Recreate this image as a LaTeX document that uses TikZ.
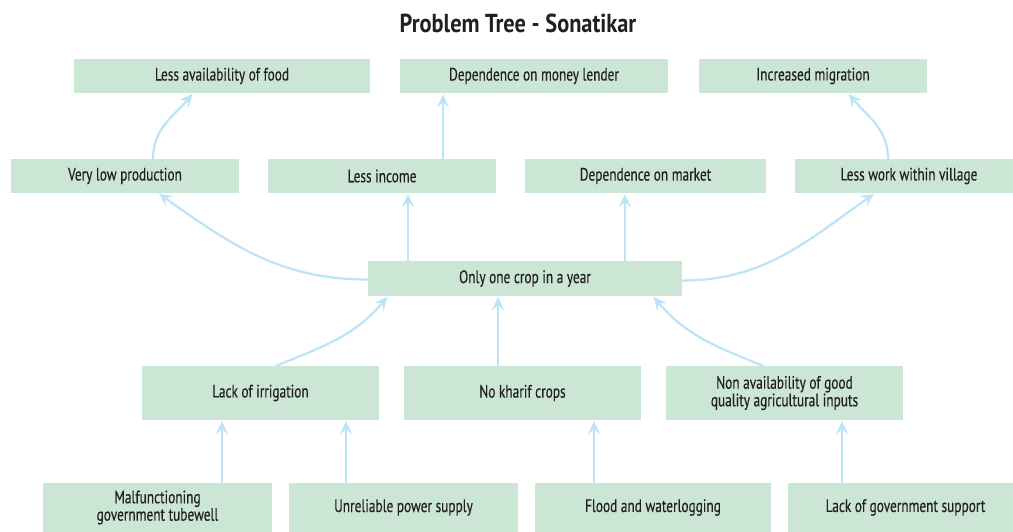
\documentclass[tikz,border=0pt]{standalone}
\usepackage{fontspec}
\setmainfont[FakeStretch=0.74,FakeBold=0.3]{PT Sans}
\newfontfamily\titlefont[FakeStretch=0.86]{PT Sans}
\usetikzlibrary{arrows.meta}
\definecolor{boxfill}{HTML}{CCE6D5}
\definecolor{arrowc}{HTML}{BDE3F7}
\definecolor{txt}{HTML}{231F20}
\tikzset{
  box/.style={fill=boxfill, draw=none, inner sep=2pt, align=center, text=txt,
    font=\fontsize{18}{15.5}\selectfont},
  arr/.style={draw=arrowc, line width=2.2pt,
    -{Stealth[length=13pt,width=12pt,inset=5pt]}, shorten >=1pt},
}
\begin{document}
\begin{tikzpicture}[x=1pt,y=-1pt]
\useasboundingbox (0,0) rectangle (1013,532);
\clip (0,0) rectangle (1013,532);
\node[text=txt, font=\titlefont\fontsize{26}{28}\bfseries\selectfont] (title) at (518,23) {Problem Tree - Sonatikar};
% row 1
\node[box, minimum width=296pt, minimum height=34pt] (A) at (222,76) {Less availability of food};
\node[box, minimum width=268pt, minimum height=34pt] (B) at (534,76) {Dependence on money lender};
\node[box, minimum width=228pt, minimum height=34pt] (C) at (813,76) {Increased migration};
% row 2
\node[box, minimum width=228pt, minimum height=34pt] (D) at (125,176) {Very low production};
\node[box, minimum width=228pt, minimum height=34pt] (E) at (382,176) {Less income};
\node[box, minimum width=241pt, minimum height=34pt] (F) at (645.5,176) {Dependence on market};
\node[box, minimum width=228pt, minimum height=34pt] (G) at (909,176) {Less work within village};
% row 3
\node[box, minimum width=314pt, minimum height=35pt] (H) at (525,278.5) {Only one crop in a year};
% row 4
\node[box, minimum width=237pt, minimum height=54pt] (I) at (260.5,393) {Lack of irrigation};
\node[box, minimum width=237pt, minimum height=54pt] (J) at (522.5,393) {No kharif crops};
\node[box, minimum width=237pt, minimum height=54pt] (K) at (784.5,393) {Non availability of good\\quality agricultural inputs};
% row 5
\node[box, minimum width=229pt, minimum height=49pt] (L) at (157.5,507.5) {Malfunctioning\\government tubewell};
\node[box, minimum width=229pt, minimum height=49pt] (M) at (403.5,507.5) {Unreliable power supply};
\node[box, minimum width=236pt, minimum height=49pt] (N) at (653,507.5) {Flood and waterlogging};
\node[box, minimum width=235pt, minimum height=49pt] (O) at (905.5,507.5) {Lack of government support};
% arrows top part
\draw[arr] ([xshift=28pt]D.north) to[out=90,in=230] ([xshift=-29pt]A.south);
\draw[arr] ([xshift=61pt]E.north) -- ([xshift=61pt]E.north |- B.south);
\draw[arr] ([xshift=-21pt]G.north) to[out=90,in=-50] ([xshift=35pt]C.south);
% from H
\draw[arr] ([yshift=-1pt]H.west) to[out=180,in=-35] ([xshift=33pt]D.south);
\draw[arr] ([xshift=-117pt]H.north) -- ([xshift=-117pt]H.north |- E.south);
\draw[arr] ([xshift=100pt]H.north) -- ([xshift=100pt]H.north |- F.south);
\draw[arr] ([yshift=-2pt]H.east) to[out=0,in=215] ([xshift=-34pt]G.south);
% to H
\draw[arr] ([xshift=15.5pt]I.north) to[out=22,in=230] ([xshift=-137pt]H.south);
\draw[arr] ([xshift=-24.5pt]J.north) -- ([xshift=-24.5pt]J.north |- H.south);
\draw[arr] ([xshift=-21.5pt]K.north) to[out=158,in=-50] ([xshift=128pt]H.south);
% bottom
\draw[arr] ([xshift=64.5pt]L.north) -- ([xshift=64.5pt]L.north |- I.south);
\draw[arr] ([xshift=-57.5pt]M.north) -- ([xshift=-57.5pt]M.north |- I.south);
\draw[arr] ([xshift=-59pt]N.north) -- ([xshift=-59pt]N.north |- J.south);
\draw[arr] ([xshift=-63.5pt]O.north) -- ([xshift=-63.5pt]O.north |- K.south);
\end{tikzpicture}
\end{document}
